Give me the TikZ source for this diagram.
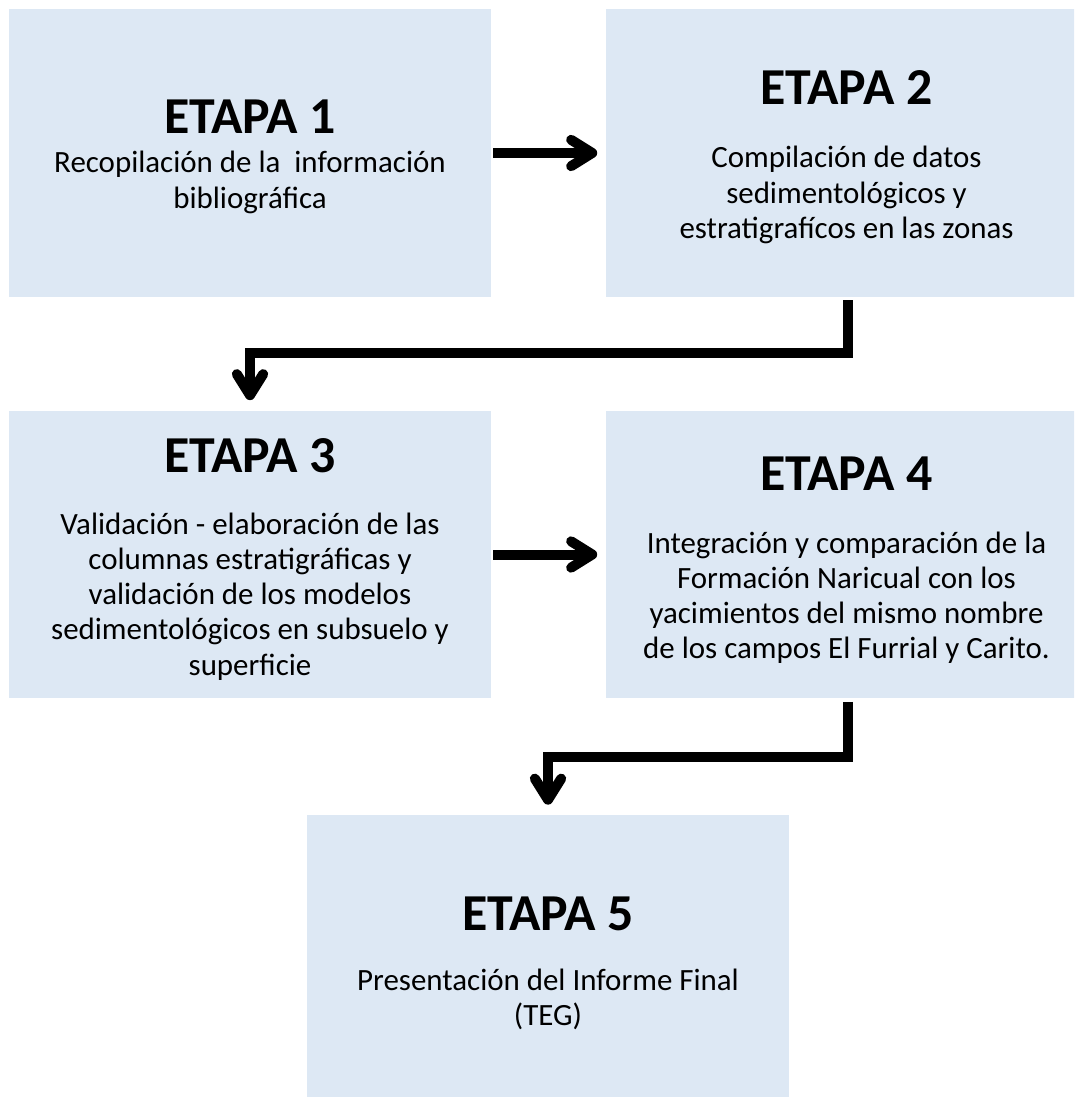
\documentclass[tikz,border=0pt]{standalone}
\usepackage{fontspec}
\setmainfont{Carlito}
\usetikzlibrary{arrows.meta,calc}
\definecolor{etapafill}{RGB}{221,232,244}

\begin{document}
\begin{tikzpicture}[line cap=butt,line join=miter,>={Straight Barb[round,length=12pt,width=15pt]},x=0.02cm,y=-0.02cm,
        etapa/.style={fill=etapafill,draw=none,inner sep=0pt,minimum width=9.64cm,minimum height=5.76cm},
        titulo/.style={anchor=base,inner sep=0pt,font=\fontsize{29.5}{35}\selectfont\bfseries},
        texto/.style={anchor=base,inner sep=0pt,text width=9.4cm,align=flush center,font=\fontsize{17.6}{20.1}\selectfont},
        flecha/.style={->,line width=0.2cm}]
                        \clip (0,0) rectangle (1074,1097);
                        \node[etapa] (e1) at (250,153) {};
                        \node[etapa] (e2) at (846.5,153) {};
                        \node[etapa] (e3) at (250,554.5) {};
                        \node[etapa] (e4) at (846.5,554.5) {};
                        \node[etapa] (e5) at (548,959) {};
                        \node[titulo] (t1) at (250,134) {ETAPA 1};
                        \node[texto] (d1) at (250,173) {Recopilación de la~ información\\ bibliográfica};
                        \node[titulo] (t2) at (846.5,105) {ETAPA 2};
                        \node[texto] (d2) at (846.5,168) {Compilación de datos\\ sedimentológicos y\\ estratigrafícos en las zonas};
                        \node[titulo] (t3) at (250,472) {ETAPA 3};
                        \node[texto] (d3) at (250,534) {Validación - elaboración de las\\ columnas estratigráficas y\\ validación de los modelos\\ sedimentológicos en subsuelo y\\ superficie};
                        \node[titulo] (t4) at (846.5,490) {ETAPA 4};
                        \node[texto] (d4) at (846.5,553) {Integración y comparación de la\\ Formación Naricual con los\\ yacimientos del mismo nombre\\ de los campos El Furrial y Carito.};
                        \node[titulo] (t5) at (548,930) {ETAPA 5};
                        \node[texto] (d5) at (548,990) {Presentación del Informe Final\\ (TEG)};
                        \draw[flecha] ($(e1.east)+(2,0)$) -- ($(e2.west)+(-8,0)$);
                        \draw[flecha] ($(e3.east)+(2,0)$) -- ($(e4.west)+(-8,0)$);
                        \draw[flecha] ($(e2.south)+(1.5,3)$) |- ($(e3.north)+(0,-57)$) -- ($(e3.north)+(0,-10)$);
                        \draw[flecha] ($(e4.south)+(1.5,3)$) |- ($(e5.north)+(0,-58)$) -- ($(e5.north)+(0,-10)$);
\end{tikzpicture}
\end{document}
